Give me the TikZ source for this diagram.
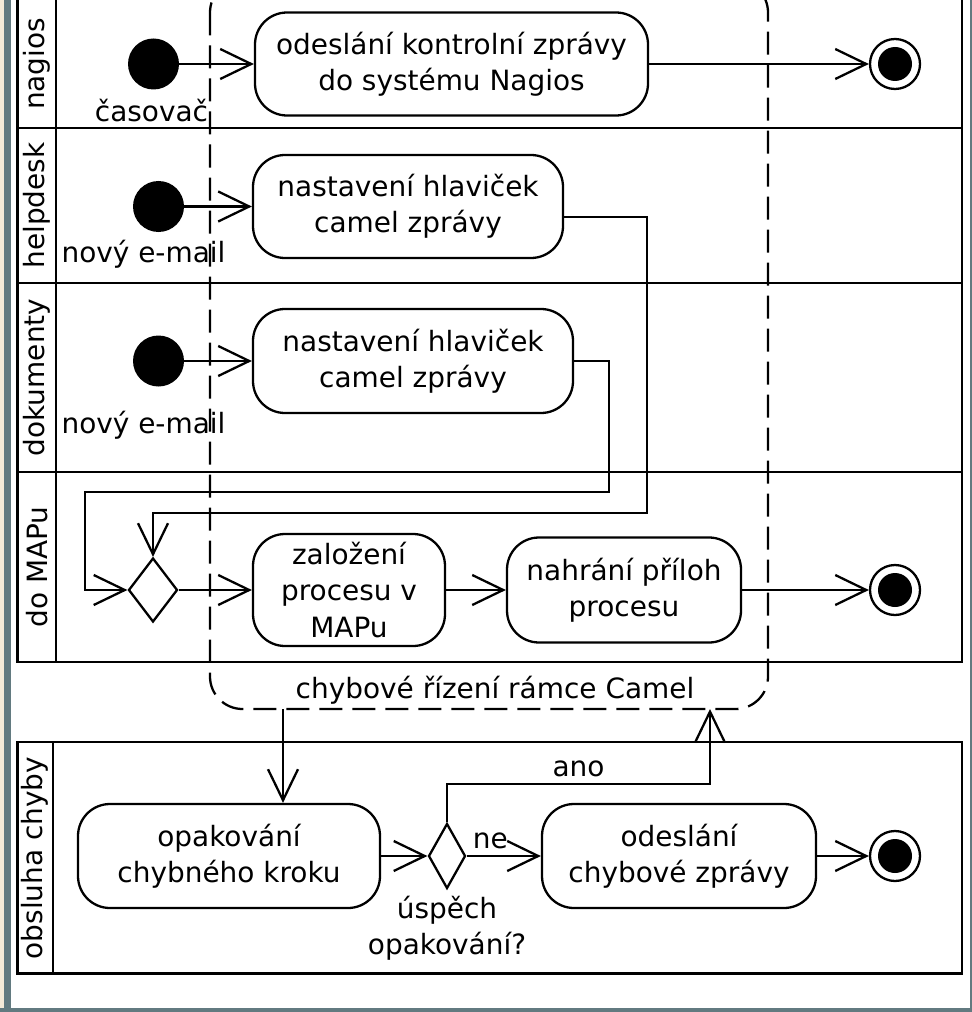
\documentclass[tikz,border=0pt]{standalone}
\usepackage{fontspec}
\setmainfont{DejaVu Sans}
\usetikzlibrary{arrows.meta,shapes.geometric}
\definecolor{framegray}{RGB}{98,122,128}
\definecolor{paper}{RGB}{244,234,216}

\begin{document}
\begin{tikzpicture}
[font=\fontsize{15.9}{20.5}\selectfont,
lane/.style={line width=1.5pt},
action/.style={rectangle, rounded corners=0.64cm, draw=black, line width=1.3pt, inner sep=0pt, align=center},
startdot/.style={circle, fill=black, minimum size=1.02cm, inner sep=0pt},
enddot/.style={circle, draw=black, line width=1.3pt, minimum size=1cm, inner sep=0pt,
   path picture={\fill[black] (path picture bounding box.center) circle (0.34cm);}},
decision/.style={diamond, draw=black, line width=1.3pt, inner sep=0pt},
flowarrow/.style={line width=1.3pt, -{Straight Barb[length=0.62cm,width=0.6cm]}},
errframe/.style={line width=1.3pt, rounded corners=0.65cm, dash pattern=on 0.46cm off 0.2cm}]
\useasboundingbox (0,0) rectangle (19.44,-20.24);
\clip (0,0) rectangle (19.44,-20.24);

% swimlanes
\draw[lane] (0.35,0.2) rectangle (19.24,-13.24);
\draw[lane] (1.12,0.2) -- (1.12,-13.24);
\draw[lane] (0.35,-2.56) -- (19.24,-2.56);
\draw[lane] (0.35,-5.66) -- (19.24,-5.66);
\draw[lane] (0.35,-9.44) -- (19.24,-9.44);
\draw[lane] (0.35,-14.84) rectangle (19.24,-19.47);
\draw[lane] (1.06,-14.84) -- (1.06,-19.47);

\node[rotate=90] (ln) at (0.735,-1.28) {nagios};
\node[rotate=90] (lh) at (0.735,-4.11) {helpdesk};
\node[rotate=90] (ld) at (0.735,-7.55) {dokumenty};
\node[rotate=90] (lm) at (0.735,-11.34) {do MAPu};
\node[rotate=90] (lo) at (0.70,-17.16) {obsluha chyby};

% nagios
\node[startdot] (n0) at (3.07,-1.28) {};
\node[anchor=base] (n0l) at (3.03,-2.44) {časovač};
\node[action, minimum width=7.86cm, minimum height=2.06cm] (n1) at (9.03,-1.28) {odeslání kontrolní zprávy\\do systému Nagios};
\node[enddot] (nf) at (17.9,-1.28) {};

% helpdesk
\node[startdot] (h0) at (3.17,-4.13) {};
\node[anchor=base] (h0l) at (2.87,-5.24) {nový e-mail};
\node[action, minimum width=6.2cm, minimum height=2.06cm] (h1) at (8.16,-4.13) {nastavení hlaviček\\camel zprávy};

% dokumenty
\node[startdot] (d0) at (3.17,-7.22) {};
\node[anchor=base] (d0l) at (2.87,-8.66) {nový e-mail};
\node[action, minimum width=6.4cm, minimum height=2.08cm] (d1) at (8.26,-7.22) {nastavení hlaviček\\camel zprávy};

% do MAPu
\node[decision, minimum width=0.98cm, minimum height=1.28cm] (m) at (3.06,-11.8) {};
\node[action, minimum width=3.84cm, minimum height=2.24cm] (m1) at (6.98,-11.8) {založení\\procesu v\\MAPu};
\node[action, minimum width=4.68cm, minimum height=2.1cm] (m2) at (12.48,-11.8) {nahrání příloh\\procesu};
\node[enddot] (mf) at (17.9,-11.8) {};

% chybove rizeni
\draw[errframe] (4.2,0.4) rectangle (15.36,-14.18);
\node[anchor=base] (camel) at (9.9,-13.96) {chybové řízení rámce Camel};
\coordinate (errout) at (5.66,-14.18);
\coordinate (errin) at (14.2,-14.18);

% obsluha chyby
\node[action, minimum width=6.04cm, minimum height=2.08cm] (o1) at (4.58,-17.12) {opakování\\chybného kroku};
\node[decision, minimum width=0.74cm, minimum height=1.3cm] (o) at (8.94,-17.12) {};
\node[anchor=north, align=center] (ol) at (o.south) {úspěch\\opakování?};
\node[action, minimum width=5.48cm, minimum height=2.08cm] (o2) at (13.58,-17.12) {odeslání\\chybové zprávy};
\node[enddot] (of) at (17.9,-17.12) {};

\draw[flowarrow] (n0) to (n1);
\draw[flowarrow] (n1) to (nf);
\draw[flowarrow] (h0) to (h1);
\draw[flowarrow] (d0) to (d1);
\draw[flowarrow] ([yshift=-0.21cm]h1.east) -| (12.94,-10.26) -| (m.north);
\draw[flowarrow] (d1.east) -| (12.18,-9.84) -| (1.7,-11.8) -- (m.west);
\draw[flowarrow] (m) to (m1);
\draw[flowarrow] (m1) to (m2);
\draw[flowarrow] (m2) to (mf);

\draw[flowarrow] (errout) -- (errout |- o1.north);
\draw[flowarrow] (o1) to (o);
\draw[flowarrow] (o) -- node[pos=0.32, above] (ne) {ne} (o2);
\draw[flowarrow] (o.north) |- node[pos=0.75, above] (ano) {ano} (14.2,-15.68) -- (errin);
\draw[flowarrow] (o2) to (of);

% screen frame
\fill[paper] (0,0) rectangle (0.08,-20.24);
\fill[framegray] (0.08,0) rectangle (0.22,-20.24);
\fill[framegray] (19.4,0) rectangle (19.44,-20.24);
\fill[framegray] (0,-20.16) rectangle (19.44,-20.24);
\end{tikzpicture}
\end{document}
